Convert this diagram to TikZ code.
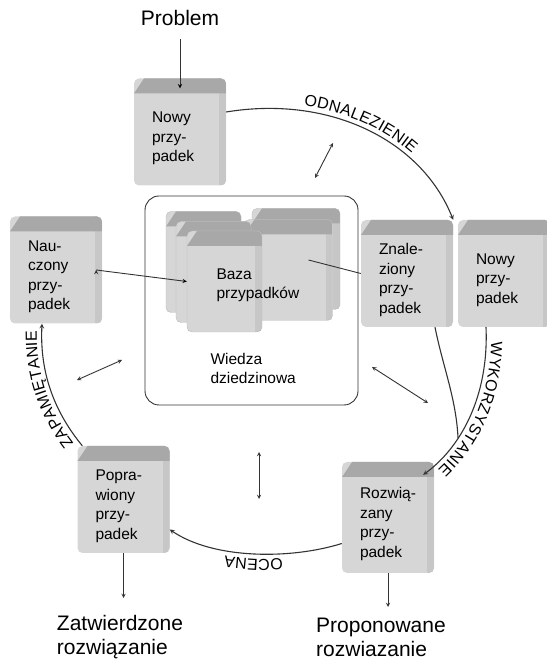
\documentclass[tikz,border=0pt]{standalone}
\usepackage{fontspec}
\setmainfont{Liberation Sans}
\usetikzlibrary{decorations.text}

\definecolor{boxfront}{gray}{0.84}
\definecolor{boxtop}{gray}{0.66}
\definecolor{boxside}{gray}{0.78}
\definecolor{ink}{gray}{0.2}

\newcommand{\boxfont}{\fontsize{15.5}{19.5}\selectfont}
\newcommand{\resultfont}{\fontsize{21}{24}\selectfont}
\newcommand{\cyclefont}{\fontsize{16}{18}\selectfont}

\tikzstyle{casebox} = [rectangle, rounded corners=5pt, fill=boxfront, minimum width=92pt, minimum height=107pt,
  text width=56pt, align=left, font=\boxfont, execute at begin node={\rule{0pt}{24pt}},
  path picture={
    \fill[boxside, sharp corners] ([xshift=-7pt]path picture bounding box.north east) rectangle (path picture bounding box.south east);
    \fill[boxtop, sharp corners] ([yshift=-15pt]path picture bounding box.north west) -- ([xshift=10pt]path picture bounding box.north west)
      -- (path picture bounding box.north east) -- ([yshift=-15pt]path picture bounding box.north east) -- cycle;
  }]
\tikzstyle{stackbox} = [casebox, draw=gray!55, thin, minimum width=75pt, minimum height=101pt]
\tikzstyle{cyc}  = [-stealth, draw=ink, line width=1.1pt]
\tikzstyle{flow} = [-stealth, draw=ink, line width=0.9pt]
\tikzstyle{dbl}  = [stealth-stealth, draw=ink, line width=0.9pt]

\begin{document}
\begin{tikzpicture}[x=1pt, y=1pt]
  \useasboundingbox (0,0) rectangle (546,660);
  \node at (180,642) (problem) [font=\resultfont] {Problem};
  \node at (180,528) (new) [casebox] {Nowy\\przy-\\padek};
  \node at (56,390) (learned) [casebox] {Nau-\\czony\\przy-\\padek};
  \node at (407,386.5) (retrieved) [casebox] {Znale-\\ziony\\przy-\\padek};
  \node at (504,386.5) (newcopy) [casebox] {Nowy\\przy-\\padek};
  \node at (388,142.5) (solved) [casebox, minimum height=111pt] {Rozwią-\\zany\\przy-\\padek};
  \node at (123.5,160.5) (revised) [casebox] {Popra-\\wiony\\przy-\\padek};

  \node at (251.5,359.5) (domain) [draw=ink, line width=0.9pt, rounded corners=14pt, minimum width=213pt, minimum height=209pt] {};
  \node at (296,401) (dbR1) [stackbox, minimum width=88pt] {};
  \node at (288.5,390) (dbR2) [stackbox, minimum width=88pt] {};
  \node at (203.5,398) (dbL1) [stackbox] {};
  \node at (213.5,388) (dbL2) [stackbox] {};
  \node at (224.5,378.5) (dbL3) [stackbox] {};
  \node at (213,374.5) (casebase) [anchor=west, align=left, font=\boxfont] {Baza\\przypadków};
  \node at (207,291.5) (knowledge) [anchor=west, align=left, font=\boxfont] {Wiedza\\dziedzinowa};

  \path[flow, shorten <=10pt] (problem) edge ([yshift=-10pt]new.north);
  \path[flow] ([xshift=-6pt]learned.east) edge (dbL3.west);
  \draw[ink, line width=0.9pt] ([shift={(20pt,10pt)}]dbR2.center) -- (retrieved.west);

  \draw[cyc, postaction={decorate, decoration={text along path, text align=center, raise=5pt, text={|\cyclefont|ODNALEZIENIE}}}]
    ([yshift=20pt]new.east) .. controls +(103,17) and +(-32,80) .. (retrieved.north east);
  \draw[cyc, postaction={decorate, decoration={text along path, text align=center, raise=5pt, text={|\cyclefont|WYKORZYSTANIE}}}]
    ([xshift=-18pt]newcopy.south) .. controls +(3,-70) and +(37,27) .. coordinate[pos=0.65] (merge) ([shift={(-11pt,-13pt)}]solved.north east);
  \draw[cyc, -] ([xshift=28pt]retrieved.south) .. controls +(8,-40) and +(-2,40) .. (merge);
  \draw[cyc, postaction={decorate, decoration={text along path, text align=center, raise=5pt, text={|\cyclefont|OCENA}}}]
    ([yshift=-26pt]solved.west) .. controls +(-51,-16) and +(44,-30) .. ([yshift=-30pt]revised.east);
  \draw[cyc, postaction={decorate, decoration={text along path, text align=center, raise=5pt, text={|\cyclefont|ZAPAMIĘTANIE}}}]
    ([xshift=5pt]revised.north west) .. controls +(-32,39) and +(-2,-43) .. ([xshift=-14pt]learned.south);

  \draw[dbl] (333,517) -- (315,482);
  \draw[dbl] (77,280) -- (122,300);
  \draw[dbl] (372,293) -- (428,257);
  \draw[dbl] (259,208) -- (259,161);

  \node at (120,48) (approved) [anchor=north, align=left, font=\resultfont] {Zatwierdzone\\rozwiązanie};
  \node at (381,45) (proposed) [anchor=north, align=left, font=\resultfont] {Proponowane\\rozwiazanie};
  \draw[flow, shorten >=14pt] (revised) -- (revised |- approved.north);
  \draw[flow, shorten >=8pt] (solved) -- (solved |- proposed.north);
\end{tikzpicture}
\end{document}
